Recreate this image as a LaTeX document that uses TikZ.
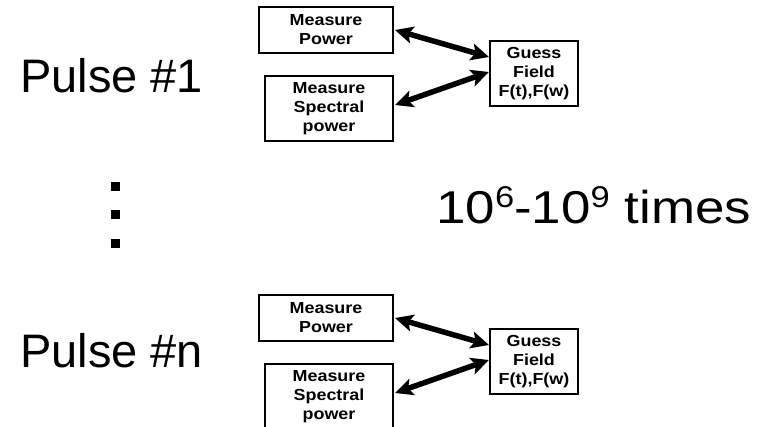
\documentclass[tikz,border=0pt]{standalone}
\usepackage{fontspec}
\setmainfont{Liberation Sans}
\newfontfamily\boxfont[FakeStretch=1.12]{Liberation Sans}
\newfontfamily\widefont[FakeStretch=1.15]{Liberation Sans}
\usetikzlibrary{arrows.meta}
\tikzset{
  stagebox/.style={draw, line width=2pt, inner sep=0pt, align=center,
    font=\boxfont\bfseries\fontsize{16}{19}\selectfont},
  linkarrow/.style={line width=5.5pt,
    {Stealth[length=18pt,width=17pt,inset=4pt]}-{Stealth[length=18pt,width=17pt,inset=4pt]}},
  bigtext/.style={anchor=base west, inner sep=0pt, font=\fontsize{47}{56}\selectfont},
  dotmark/.style={fill=black, minimum size=9pt, inner sep=0pt}
}
\begin{document}
\begin{tikzpicture}[x=1pt,y=-1pt]
  \clip (0,0) rectangle (768,426);
  \fill[white] (0,0) rectangle (768,426);

  % first pulse
  \node[bigtext] (p1) at (20,92) {Pulse \#1};
  \node[stagebox, minimum width=134pt, minimum height=46pt] (pow1) at (326,30) {Measure\\Power};
  \node[stagebox, minimum width=128pt, minimum height=65pt] (spec1) at (329,108.5) {Measure\\Spectral\\power};
  \node[stagebox, minimum width=88pt, minimum height=65pt] (guess1) at (534,73.5) {Guess\\Field\\F(t),F(w)};
  \draw[linkarrow] ([xshift=1pt]pow1.east) -- ([yshift=16.5pt]guess1.west);
  \draw[linkarrow] ([xshift=1pt,yshift=3.5pt]spec1.east) -- ([yshift=1.5pt]guess1.west);

  % repetition marks
  \node[dotmark] (d1) at (115,186) {};
  \node[dotmark] (d2) at (115,214.5) {};
  \node[dotmark] (d3) at (115,243) {};
  \node[anchor=base west, inner sep=0pt, font=\widefont\fontsize{46}{54}\selectfont] (reps) at (436,223)
    {10\raisebox{0.62ex}{\fontsize{30}{34}\selectfont 6}-10\raisebox{0.62ex}{\fontsize{30}{34}\selectfont 9} times};

  % last pulse
  \node[bigtext] (pn) at (20,367) {Pulse \#n};
  \node[stagebox, minimum width=134pt, minimum height=46pt] (pown) at (326,318) {Measure\\Power};
  \node[stagebox, minimum width=128pt, minimum height=65pt] (specn) at (329,396.5) {Measure\\Spectral\\power};
  \node[stagebox, minimum width=88pt, minimum height=65pt] (guessn) at (534,361.5) {Guess\\Field\\F(t),F(w)};
  \draw[linkarrow] ([xshift=1pt]pown.east) -- ([yshift=16.5pt]guessn.west);
  \draw[linkarrow] ([xshift=1pt,yshift=3.5pt]specn.east) -- ([yshift=1.5pt]guessn.west);
\end{tikzpicture}
\end{document}
